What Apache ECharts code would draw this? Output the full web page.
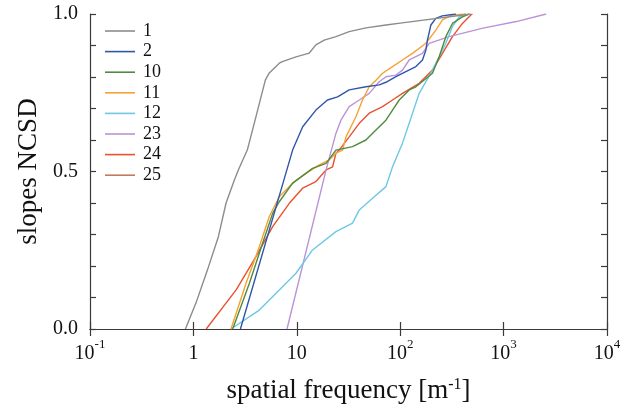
<!DOCTYPE html>
<html>
<head>
<meta charset="utf-8">
<script src="https://cdn.jsdelivr.net/npm/echarts@6/dist/echarts.min.js"></script>
<style>html,body{margin:0;padding:0;background:#fff}#c{width:636px;height:410px}</style>
</head>
<body>
<div id="c"></div>
<script>
// ---- data (spatial frequency [1/m], cumulative slopes NCSD) ----
const names = ['1', '2', '10', '11', '12', '23', '24', '25'];
const colors = ['#8c8c8c', '#2f56ab', '#4f8b3f', '#f5a235', '#6cc8e4', '#bb93d8', '#e9522f', '#c27a5c'];

const f1 = [0.837, 1.06, 1.366, 1.744, 2.07, 2.49, 2.72, 3.32, 4.03, 4.96, 5.42, 6.77, 7.24, 9.82, 13.2, 15.3, 18.4, 23.9, 32.1, 46.6, 72.8, 104.5, 482];
const v1 = [0, 0.083, 0.187, 0.293, 0.40, 0.473, 0.505, 0.568, 0.674, 0.790, 0.813, 0.844, 0.849, 0.864, 0.876, 0.902, 0.917, 0.928, 0.944, 0.956, 0.965, 0.972, 1.0];

const f2 = [2.85, 9.11, 11.4, 15.3, 19.8, 24.8, 32.1, 46.6, 62.7, 74.9, 90.9, 113.5, 141.8, 164.3, 177.1, 183.5, 198.0, 221.3, 254.6, 345.3];
const v2 = [0, 0.568, 0.642, 0.695, 0.727, 0.737, 0.759, 0.769, 0.775, 0.785, 0.801, 0.817, 0.833, 0.854, 0.886, 0.917, 0.965, 0.986, 0.994, 1.0];

const f10 = [2.40, 3.48, 4.67, 5.84, 6.77, 9.11, 14.2, 19.2, 23.9, 34.6, 46.6, 58.3, 72.8, 84.3, 97.8, 122.2, 141.8, 205.2, 238.2, 276.4, 320.1, 399.8, 464.2];
const v10 = [0, 0.145, 0.272, 0.367, 0.404, 0.463, 0.510, 0.526, 0.568, 0.579, 0.600, 0.632, 0.663, 0.695, 0.727, 0.759, 0.769, 0.812, 0.864, 0.928, 0.970, 0.991, 1.0];

const f11 = [2.31, 3.23, 4.34, 5.42, 6.77, 9.11, 12.27, 16.5, 20.6, 23.9, 27.7, 29.9, 37.3, 43.2, 50.2, 58.3, 67.5, 84.3, 105.2, 131.5, 177.1, 221.3, 256.3, 320.1, 431.3];
const v11 = [0, 0.145, 0.261, 0.357, 0.420, 0.463, 0.494, 0.521, 0.537, 0.558, 0.568, 0.610, 0.674, 0.727, 0.769, 0.790, 0.812, 0.833, 0.854, 0.875, 0.907, 0.949, 0.981, 0.997, 1.0];

const f12 = [2.31, 4.34, 6.77, 9.82, 14.2, 23.9, 34.6, 40.2, 54.0, 72.8, 84.3, 105.2, 122.2, 152.6, 205.2, 276.4, 320.1, 371.5, 431.3];
const v12 = [0, 0.060, 0.124, 0.177, 0.251, 0.309, 0.336, 0.378, 0.415, 0.452, 0.515, 0.590, 0.653, 0.748, 0.822, 0.907, 0.960, 0.991, 1.0];

const f23 = [8.04, 19.2, 23.9, 26.7, 32.1, 40.2, 50.2, 62.7, 72.8, 90.9, 105.2, 122.2, 164.3, 190.6, 297.4, 631, 1327, 2586];
const v23 = [0, 0.505, 0.621, 0.663, 0.706, 0.727, 0.748, 0.785, 0.801, 0.806, 0.822, 0.854, 0.875, 0.907, 0.928, 0.955, 0.976, 1.0];

const f24 = [1.33, 2.59, 4.03, 5.84, 8.46, 11.38, 15.3, 19.2, 22.2, 23.9, 25.7, 32.1, 40.2, 50.2, 67.5, 84.3, 105.2, 152.6, 205.2, 256.3, 320.1, 399.8, 482.1, 500];
const v24 = [0, 0.124, 0.230, 0.325, 0.399, 0.447, 0.468, 0.505, 0.515, 0.558, 0.568, 0.610, 0.653, 0.685, 0.706, 0.727, 0.748, 0.780, 0.822, 0.875, 0.928, 0.970, 0.997, 1.0];

// curve 25 is not visible in the reference plot (legend entry only)
const f25 = [];
const v25 = [];

const xTicks = [0.1, 1, 10, 100, 1000, 10000];
const yLabelTicks = [0, 0.5, 1.0];

const xs = [f1, f2, f10, f11, f12, f23, f24, f25];
const ys = [v1, v2, v10, v11, v12, v23, v24, v25];

const FONT = 'Liberation Serif';
const AX = '#3a3a3a';

function xLabel(v) {
  const e = Math.round(Math.log10(v));
  if (e === 0) return '{b|1}';
  if (e === 1) return '{b|10}';
  return '{b|10}{s|' + e + '}';
}

const series = names.map((n, i) => ({
  name: n,
  type: 'line',
  xAxisIndex: 0,
  yAxisIndex: 0,
  data: xs[i].map((x, k) => [x, ys[i][k]]),
  showSymbol: false,
  symbol: 'none',
  smooth: false,
  lineStyle: { color: colors[i], width: 1.4 },
  itemStyle: { color: colors[i] },
  z: 10 - i * 0.1,
  animation: false
}));

const chart = echarts.init(document.getElementById('c'), null, { renderer: 'canvas' });
chart.setOption({
  animation: false,
  backgroundColor: '#fff',
  textStyle: { fontFamily: FONT },
  grid: { left: 90, right: 29, top: 14, bottom: 81, containLabel: false },
  legend: {
    data: names.map(n => ({ name: n, icon: 'rect' })),
    orient: 'vertical',
    left: 100,
    top: 16,
    itemWidth: 30,
    itemHeight: 1.6,
    itemGap: 0.6,
    textStyle: { fontFamily: FONT, fontSize: 18, lineHeight: 20, color: '#111', padding: [0, 0, 0, 3] },
    inactiveColor: '#ccc'
  },
  xAxis: [
    {
      type: 'log', logBase: 10, min: 0.1, max: 10000, position: 'bottom',
      name: 'spatial frequency [m{sup|-1}]',
      nameLocation: 'middle', nameGap: 48,
      nameTextStyle: {
        fontFamily: FONT, fontSize: 27, color: '#111',
        rich: { sup: { fontFamily: FONT, fontSize: 16, verticalAlign: 'top', lineHeight: 16, color: '#111' } }
      },
      axisLine: { show: true, lineStyle: { color: AX, width: 1.2 } },
      axisTick: { show: true, inside: true, length: 7, lineStyle: { color: AX, width: 1.2 } },
      minorTick: { show: false },
      splitLine: { show: false },
      axisLabel: {
        margin: 9,
        formatter: xLabel,
        rich: {
          b: { fontFamily: FONT, fontSize: 20, color: '#111', lineHeight: 26, verticalAlign: 'bottom' },
          s: { fontFamily: FONT, fontSize: 13, color: '#111', lineHeight: 13, verticalAlign: 'top' }
        }
      }
    },
    {
      type: 'log', logBase: 10, min: 0.1, max: 10000, position: 'top',
      axisLine: { show: true, lineStyle: { color: AX, width: 1.2 } },
      axisTick: { show: true, inside: true, length: 7, lineStyle: { color: AX, width: 1.2 } },
      axisLabel: { show: false },
      splitLine: { show: false }
    }
  ],
  yAxis: [
    {
      type: 'value', min: 0, max: 1, interval: 0.1, position: 'left',
      name: 'slopes NCSD', nameLocation: 'middle', nameGap: 48, nameRotate: 90,
      nameTextStyle: { fontFamily: FONT, fontSize: 27, color: '#111' },
      axisLine: { show: true, lineStyle: { color: AX, width: 1.2 } },
      axisTick: { show: true, inside: true, length: 6, lineStyle: { color: AX, width: 1.2 } },
      splitLine: { show: false },
      axisLabel: {
        margin: 12, fontFamily: FONT, fontSize: 20, color: '#111',
        formatter: v => yLabelTicks.some(t => Math.abs(t - v) < 1e-6) ? v.toFixed(1) : ''
      }
    },
    {
      type: 'value', min: 0, max: 1, interval: 0.1, position: 'right',
      axisLine: { show: true, lineStyle: { color: AX, width: 1.2 } },
      axisTick: { show: true, inside: true, length: 6, lineStyle: { color: AX, width: 1.2 } },
      axisLabel: { show: false },
      splitLine: { show: false }
    }
  ],
  series: series
});
</script>
</body>
</html>
